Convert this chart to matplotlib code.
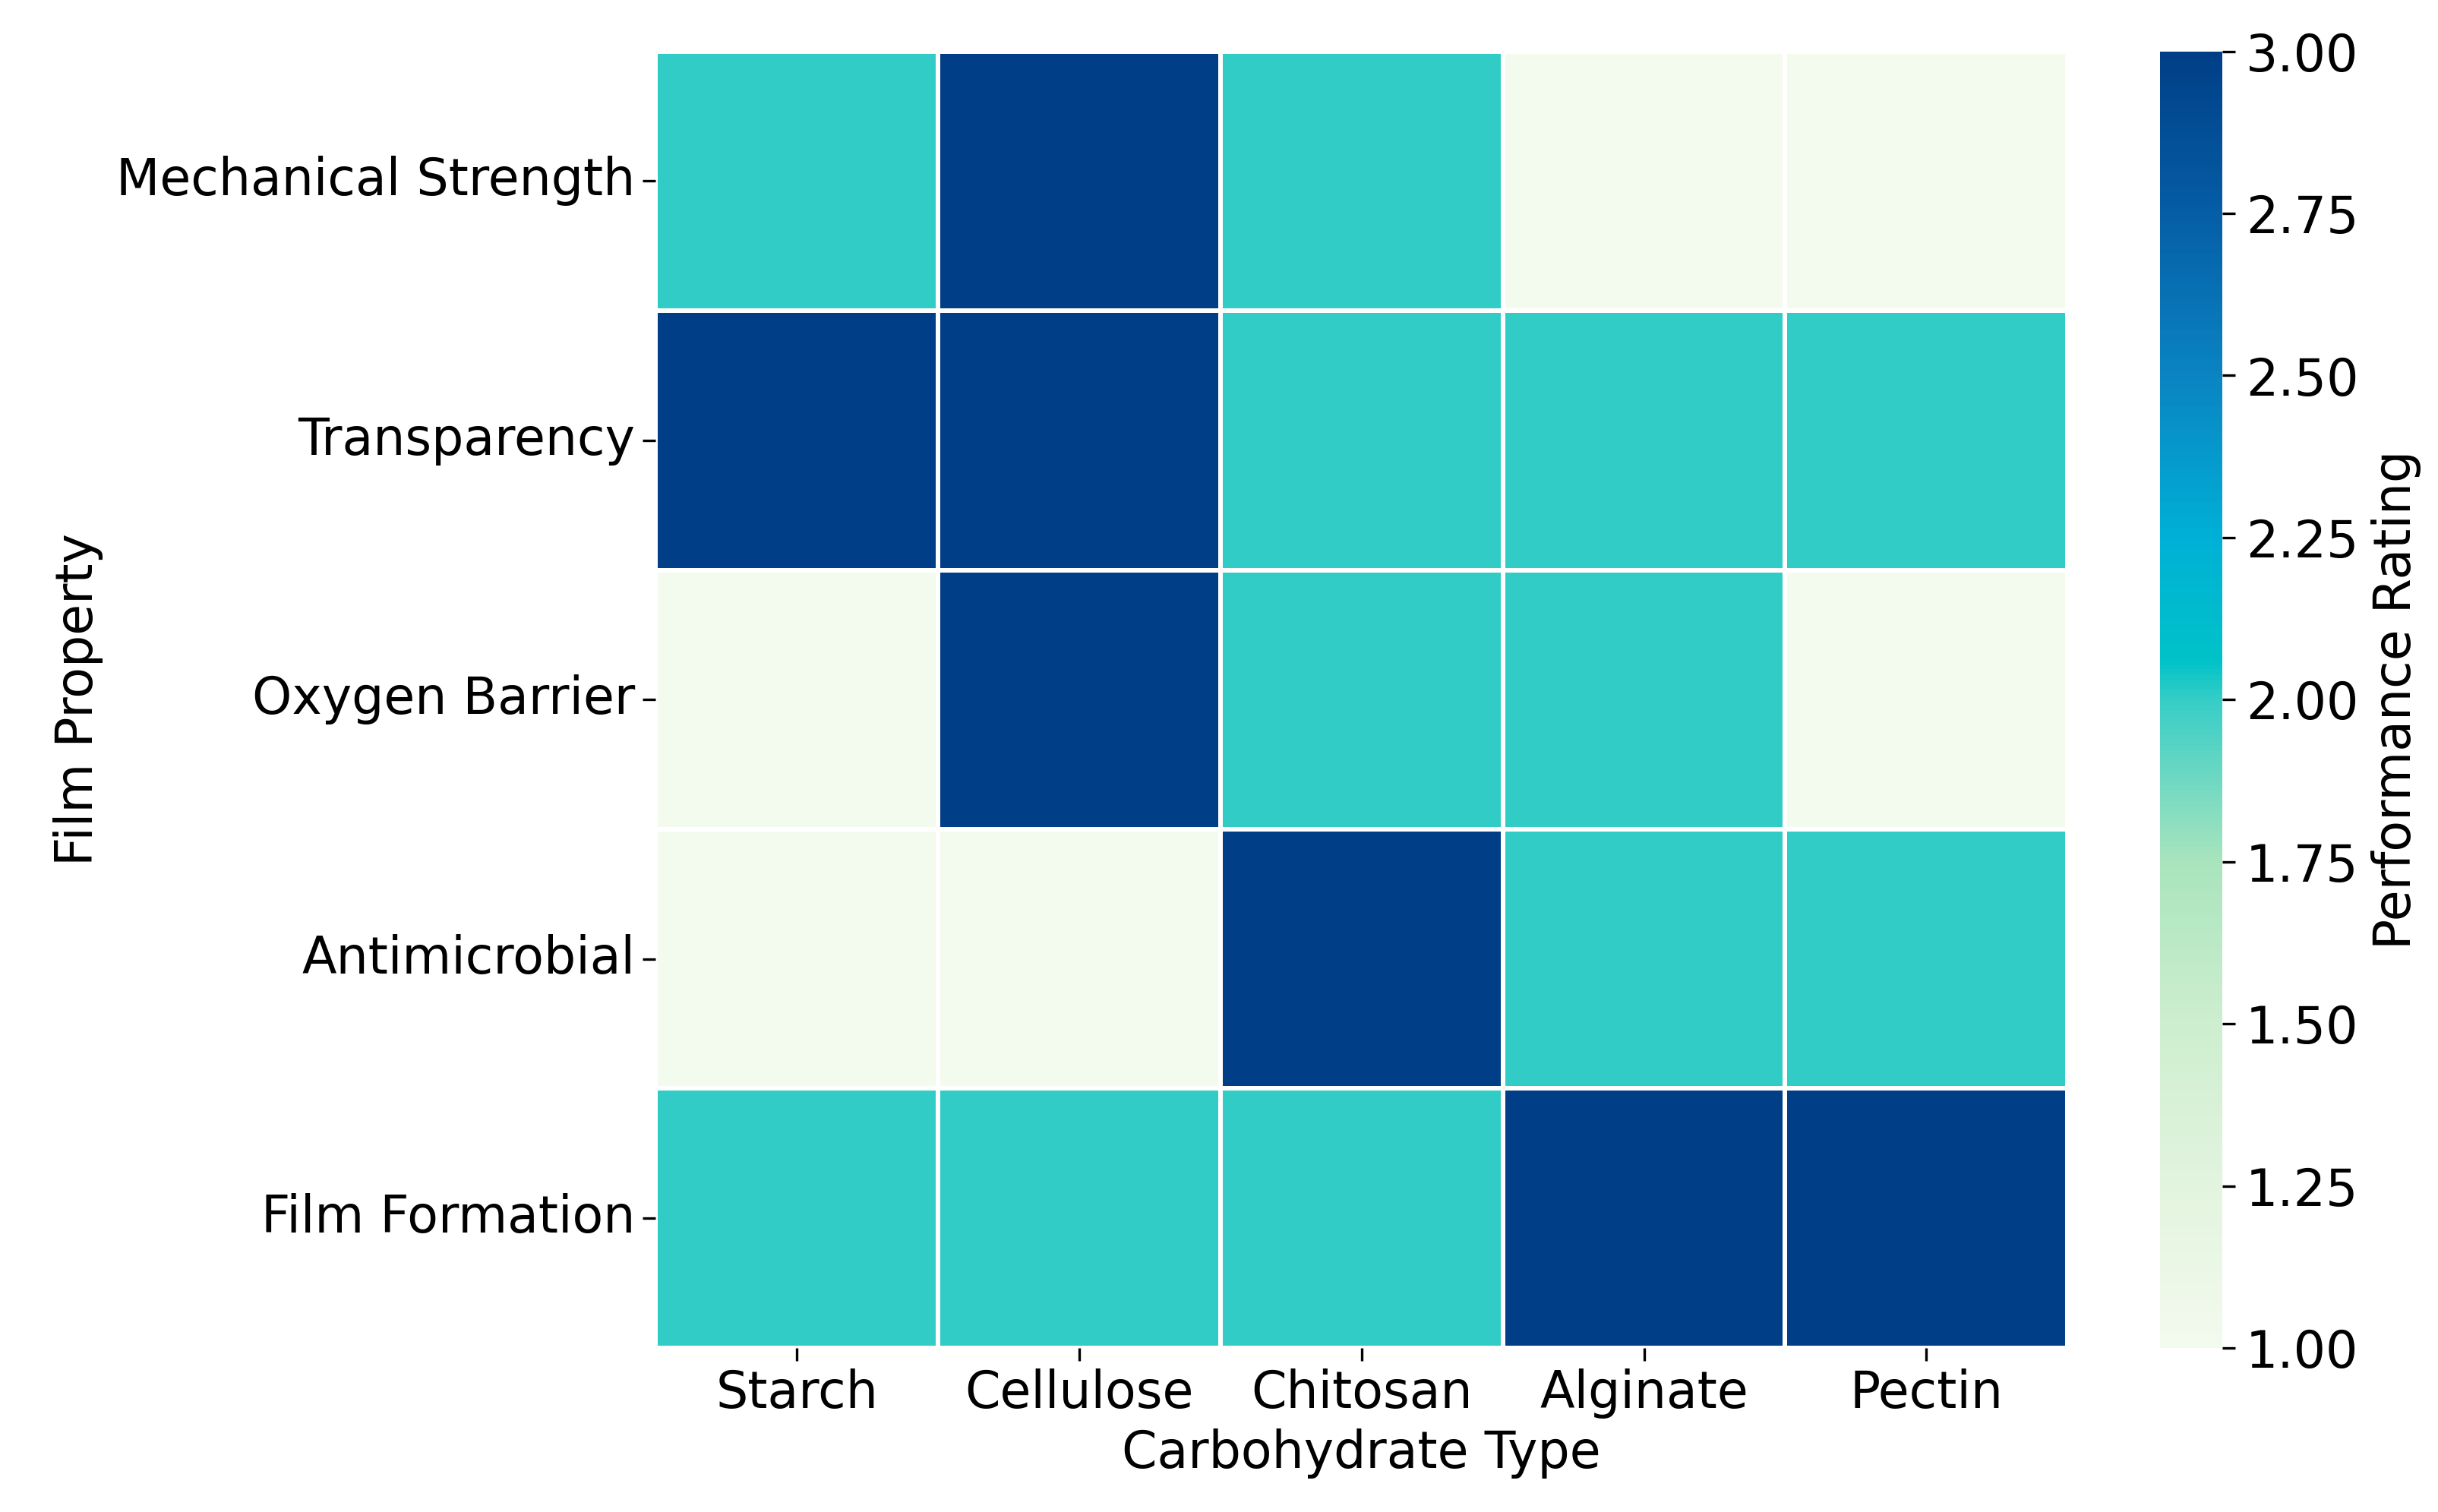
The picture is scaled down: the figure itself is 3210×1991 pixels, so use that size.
import numpy as np
import pandas as pd
import matplotlib
matplotlib.use('Agg')
import matplotlib.pyplot as plt
from matplotlib.colors import LinearSegmentedColormap
import seaborn as sns

# Data
carbohydrates = ['Starch', 'Cellulose', 'Chitosan', 'Alginate', 'Pectin']
properties = ['Mechanical Strength', 'Transparency', 'Oxygen Barrier',
              'Antimicrobial', 'Film Formation']
mechanical_strength = [2, 3, 2, 1, 1]
transparency = [3, 3, 2, 2, 2]
oxygen_barrier = [1, 3, 2, 2, 1]
antimicrobial = [1, 1, 3, 2, 2]
film_formation = [2, 2, 2, 3, 3]

data = pd.DataFrame([mechanical_strength, transparency, oxygen_barrier,
                     antimicrobial, film_formation],
                    index=properties, columns=carbohydrates)

# Colour map
cmap = LinearSegmentedColormap.from_list('rating', [
    (0.0, '#f3faee'),
    (0.125, '#e2f4de'),
    (0.25, '#cdeecf'),
    (0.375, '#a8e4bd'),
    (0.5, '#36cdc7'),
    (0.53, '#00c2c8'),
    (0.625, '#00b0d6'),
    (0.75, '#0a84c2'),
    (0.875, '#055ea6'),
    (1.0, '#003f87'),
])

fig = plt.figure(figsize=(10.7, 6.637), dpi=300)
ax = fig.add_axes([0.269, 0.1085, 0.579, 0.8575])
cax = fig.add_axes([0.886, 0.1085, 0.0255, 0.8575])

sns.heatmap(data, ax=ax, cbar_ax=cax, cmap=cmap, vmin=1, vmax=3,
            linewidths=1.4, linecolor='white',
            cbar_kws={'label': 'Performance Rating'})

ax.set_xlabel('Carbohydrate Type', fontsize=16, labelpad=3)
ax.set_ylabel('Film Property', fontsize=16)
ax.tick_params(axis='both', labelsize=16, length=4)
ax.tick_params(axis='y', pad=2.5)
ax.tick_params(axis='x', pad=2.5)
ax.set_yticklabels(properties, rotation=0)
ax.set_xticklabels(carbohydrates, rotation=0)

cax.tick_params(labelsize=16, length=4)
cax.set_yticks([1.0, 1.25, 1.5, 1.75, 2.0, 2.25, 2.5, 2.75, 3.0])
cax.set_yticklabels(['1.00', '1.25', '1.50', '1.75', '2.00', '2.25',
                     '2.50', '2.75', '3.00'])
cax.yaxis.label.set_size(16)

fig.savefig('out.png', dpi=300)
